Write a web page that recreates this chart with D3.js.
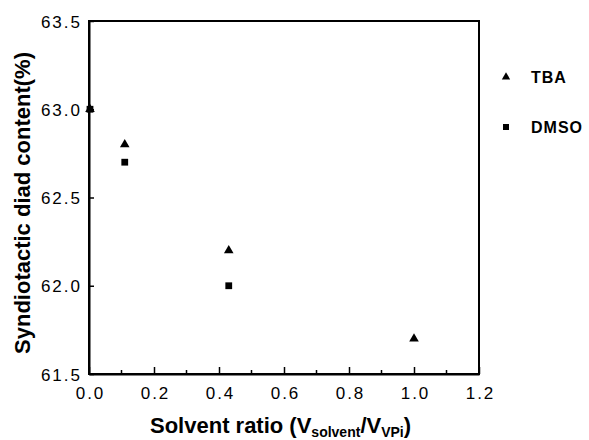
<!DOCTYPE html>
<html>
<head>
<meta charset="utf-8">
<script src="https://cdn.jsdelivr.net/npm/d3@7"></script>
<style>
  body { margin: 0; background: #fff; }
  text { font-family: "Liberation Sans", Arial, sans-serif; fill: #000; }
</style>
</head>
<body>
<div id="chart"></div>
<script>
const W = 589, H = 440;

// data
const tbaRatio = [0.0, 0.11, 0.43, 1.0];
const tbaDiad = [63.0, 62.8, 62.2, 61.7];
const dmsoRatio = [0.0, 0.11, 0.43];
const dmsoDiad = [63.0, 62.7, 62.0];
const xTicks = [0.0, 0.2, 0.4, 0.6, 0.8, 1.0, 1.2];
const xMinor = [0.1, 0.3, 0.5, 0.7, 0.9, 1.1];
const yTicks = [61.5, 62.0, 62.5, 63.0, 63.5];
const legendNames = ['TBA', 'DMSO'];

const margin = {top: 21, right: 110, bottom: 66, left: 89};
const width = W - margin.left - margin.right,
      height = H - margin.top - margin.bottom;

const svg = d3.select('#chart').append('svg')
    .attr('width', W)
    .attr('height', H);

const x = d3.scaleLinear().domain([0, 1.2]).range([0, width]);
const y = d3.scaleLinear().domain([61.5, 63.5]).range([height, 0]);

const chart = svg.append('g')
    .attr('transform', `translate(${margin.left},${margin.top})`);

// frame
chart.append('rect')
    .attr('width', width).attr('height', height)
    .attr('fill', 'none').attr('stroke', '#000').attr('stroke-width', 2);

// x axis, ticks point inward
const xAxis = chart.append('g')
    .attr('transform', `translate(0,${height})`)
    .call(d3.axisBottom(x).tickValues(xTicks).tickFormat(d3.format('.1f'))
      .tickSizeInner(-7).tickSizeOuter(0).tickPadding(13));
xAxis.append('g').selectAll('line')
    .data(xMinor).enter().append('line')
      .attr('x1', d => x(d)).attr('x2', d => x(d))
      .attr('y1', 0).attr('y2', -4)
      .attr('stroke', '#000').attr('stroke-width', 1.5);

const yAxis = chart.append('g')
    .call(d3.axisLeft(y).tickValues(yTicks).tickFormat(d3.format('.1f'))
      .tickSizeInner(-5).tickSizeOuter(0).tickPadding(7));

[xAxis, yAxis].forEach(a => {
  a.select('.domain').attr('stroke-width', 2);
  a.selectAll('.tick line').attr('stroke-width', 1.5);
  a.selectAll('.tick text').style('font-size', '17px')
    .style('letter-spacing', '2px')
    .style('font-family', '"Liberation Sans", Arial, sans-serif').attr('fill', '#000');
});
xAxis.selectAll('.tick text').attr('dy', '0.71em').attr('dx', 1);
yAxis.selectAll('.tick text').attr('dy', '0.36em');

// markers
const tri = d3.symbol().type(d3.symbolTriangle).size(40);
const sq = d3.symbol().type(d3.symbolSquare).size(46);

chart.selectAll('path.tba')
  .data(d3.zip(tbaRatio, tbaDiad))
  .enter().append('path')
    .attr('class', 'tba')
    .attr('d', tri)
    .attr('transform', d => `translate(${x(d[0]) + (d[0] === 0 ? 1 : 0)},${y(d[1])})`)
    .attr('fill', '#000');

chart.selectAll('path.dmso')
  .data(d3.zip(dmsoRatio, dmsoDiad))
  .enter().append('path')
    .attr('class', 'dmso')
    .attr('d', sq)
    .attr('transform', d => `translate(${x(d[0]) + (d[0] === 0 ? 1 : 0)},${y(d[1])})`)
    .attr('fill', '#000');

// axis titles
svg.append('text')
    .attr('transform', 'translate(30,203) rotate(-90)')
    .attr('text-anchor', 'middle')
    .style('font-size', '22px').style('font-weight', 'bold')
    .text('Syndiotactic diad content(%)');

const xt = svg.append('text')
    .attr('x', 150)
    .attr('y', 433)
    .style('font-size', '22px').style('font-weight', 'bold');
xt.append('tspan').text('Solvent ratio (V');
xt.append('tspan').attr('dy', 4).style('font-size', '14px').text('solvent');
xt.append('tspan').attr('dy', -4).text('/V');
xt.append('tspan').attr('dy', 4).style('font-size', '14px').text('VPi');
xt.append('tspan').attr('dy', -4).text(')');

// legend
const legendY = [77, 127];
const legend = svg.append('g').attr('transform', 'translate(506,0)');
legendNames.forEach((name, i) => {
  const g = legend.append('g').attr('transform', `translate(0,${legendY[i]})`);
  g.append('path').attr('d', i === 0 ? d3.symbol().type(d3.symbolTriangle).size(30)
                                     : d3.symbol().type(d3.symbolSquare).size(36))
    .attr('fill', '#000');
  g.append('text').attr('x', 25).attr('y', 6)
    .style('font-size', '16px').style('font-weight', 'bold')
    .style('letter-spacing', '1px')
    .text(name);
});
</script>
</body>
</html>
